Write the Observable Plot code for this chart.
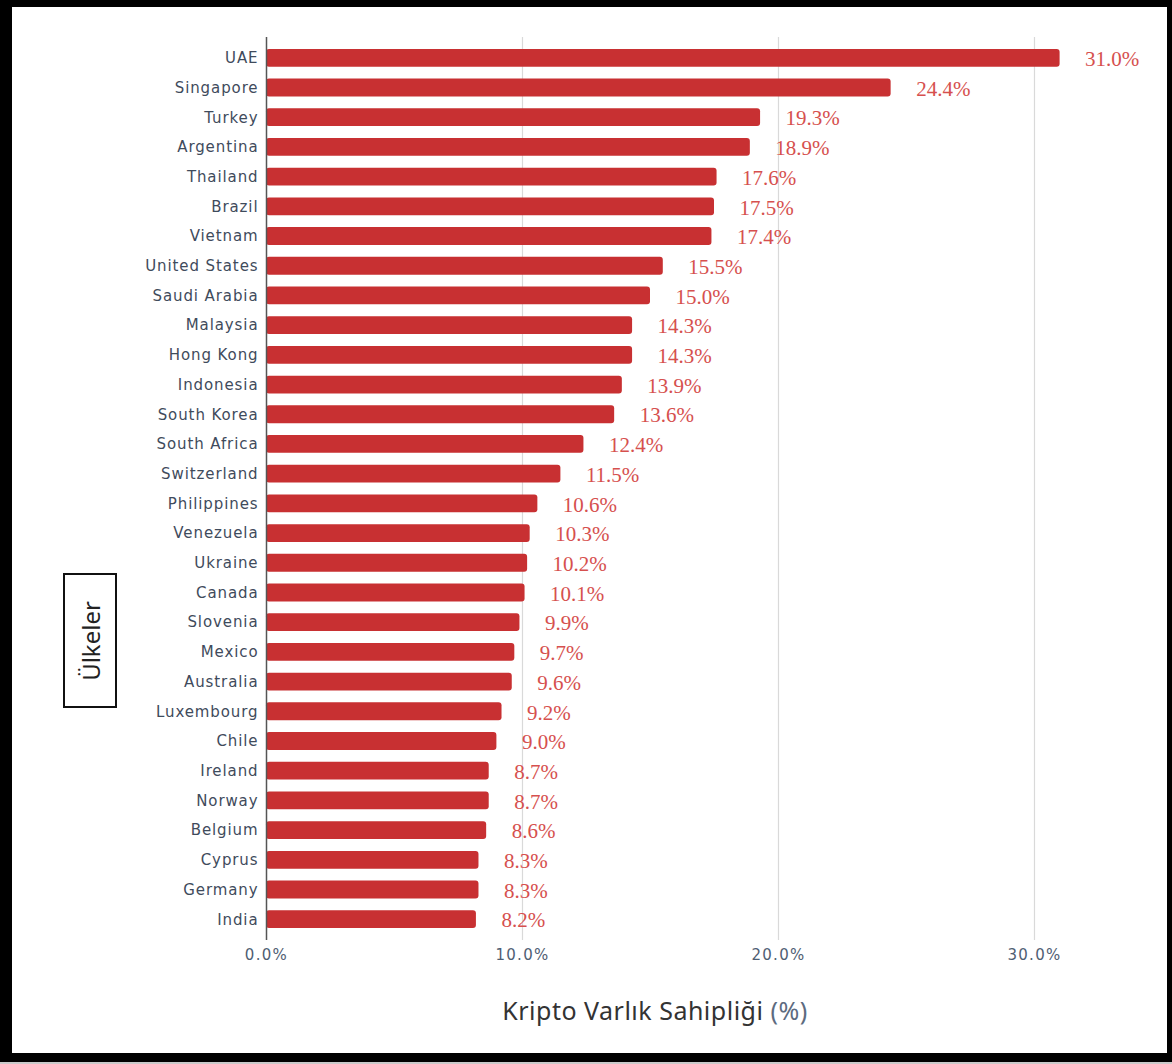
<!DOCTYPE html>
<html>
<head>
<meta charset="utf-8">
<script src="https://cdn.jsdelivr.net/npm/d3@7"></script>
<script src="https://cdn.jsdelivr.net/npm/@observablehq/plot@0.6"></script>
<style>
  html, body { margin: 0; padding: 0; background: #c9c9c9; overflow: hidden; }
  #wrap { position: relative; width: 1172px; height: 1062px; background: #fff; }
  #frame { position: absolute; left: 0; top: 0; width: 1172px; height: 1062px; box-sizing: border-box;
           border-style: solid; border-color: #000; border-width: 7px 5px 9px 12px; pointer-events: none; }
  #chart { position: absolute; left: 0; top: 0; }
  #ylab { position: absolute; left: 63px; top: 573px; width: 54px; height: 135px; box-sizing: border-box;
          border: 2px solid #111; background: #fff; }
  #ylab span { position: absolute; left: 50%; top: 50%; transform: translate(-50%, -50%) rotate(-90deg);
               font-family: "Noto Sans", sans-serif; font-size: 24px; color: #222; white-space: nowrap; }
  #xlab { position: absolute; left: 0; width: 1310px; top: 993px; text-align: center;
          font-family: "Noto Sans", sans-serif; font-size: 25px; letter-spacing: 0.5px; color: #333; white-space: nowrap; }
  #xlab .pct { color: #5d6b80; }
  g[aria-label="y-axis tick label"] text { font-family: "DejaVu Sans", sans-serif; font-size: 15px; fill: #3f4b5c; letter-spacing: 0.9px; }
  g[aria-label="x-axis tick label"] text { font-family: "DejaVu Sans", sans-serif; font-size: 15px; fill: #4f5e73; letter-spacing: 1.3px; }
</style>
</head>
<body>
<div id="wrap">
  <div id="chart"></div>
  <div id="ylab"><span>Ülkeler</span></div>
  <div id="xlab">Kripto Varlık Sahipliği <span class="pct">(%)</span></div>
  <div id="frame"></div>
</div>
<script>
const countries = ["UAE","Singapore","Turkey","Argentina","Thailand","Brazil","Vietnam","United States","Saudi Arabia","Malaysia","Hong Kong","Indonesia","South Korea","South Africa","Switzerland","Philippines","Venezuela","Ukraine","Canada","Slovenia","Mexico","Australia","Luxembourg","Chile","Ireland","Norway","Belgium","Cyprus","Germany","India"];
const values = [31.0,24.4,19.3,18.9,17.6,17.5,17.4,15.5,15.0,14.3,14.3,13.9,13.6,12.4,11.5,10.6,10.3,10.2,10.1,9.9,9.7,9.6,9.2,9.0,8.7,8.7,8.6,8.3,8.3,8.2];
const xTicks = [0, 10, 20, 30];

const data = countries.map((c, i) => ({country: c, value: values[i]}));
const fmt = d => d.toFixed(1) + "%";

const chart = Plot.plot({
  width: 1172,
  height: 1062,
  marginLeft: 266,
  marginRight: 61.2,
  marginTop: 37,
  marginBottom: 122,
  style: {background: "transparent"},
  x: {domain: [0, 33], label: null},
  y: {domain: countries, paddingInner: 0.4, paddingOuter: 0.4, round: false, label: null},
  marks: [
    Plot.gridX(xTicks.slice(1), {stroke: "#d9d9d9", strokeOpacity: 1, strokeWidth: 1.2}),
    Plot.barX(data, {x: "value", y: "country", fill: "#c83032", rx: 3}),
    Plot.ruleX([0], {stroke: "#555", strokeWidth: 1.5}),
    Plot.text(data, {x: "value", y: "country", text: d => fmt(d.value), textAnchor: "start", dx: 25, dy: 1,
      fill: "#d6504e", fontSize: 21, fontFamily: "Liberation Serif, serif", letterSpacing: 0.8}),
    Plot.axisY({tickSize: 0, tickPadding: 8, label: null}),
    Plot.axisX({ticks: xTicks, tickFormat: fmt, tickSize: 0, tickPadding: 9, label: null})
  ]
});
document.getElementById("chart").appendChild(chart);
</script>
</body>
</html>
